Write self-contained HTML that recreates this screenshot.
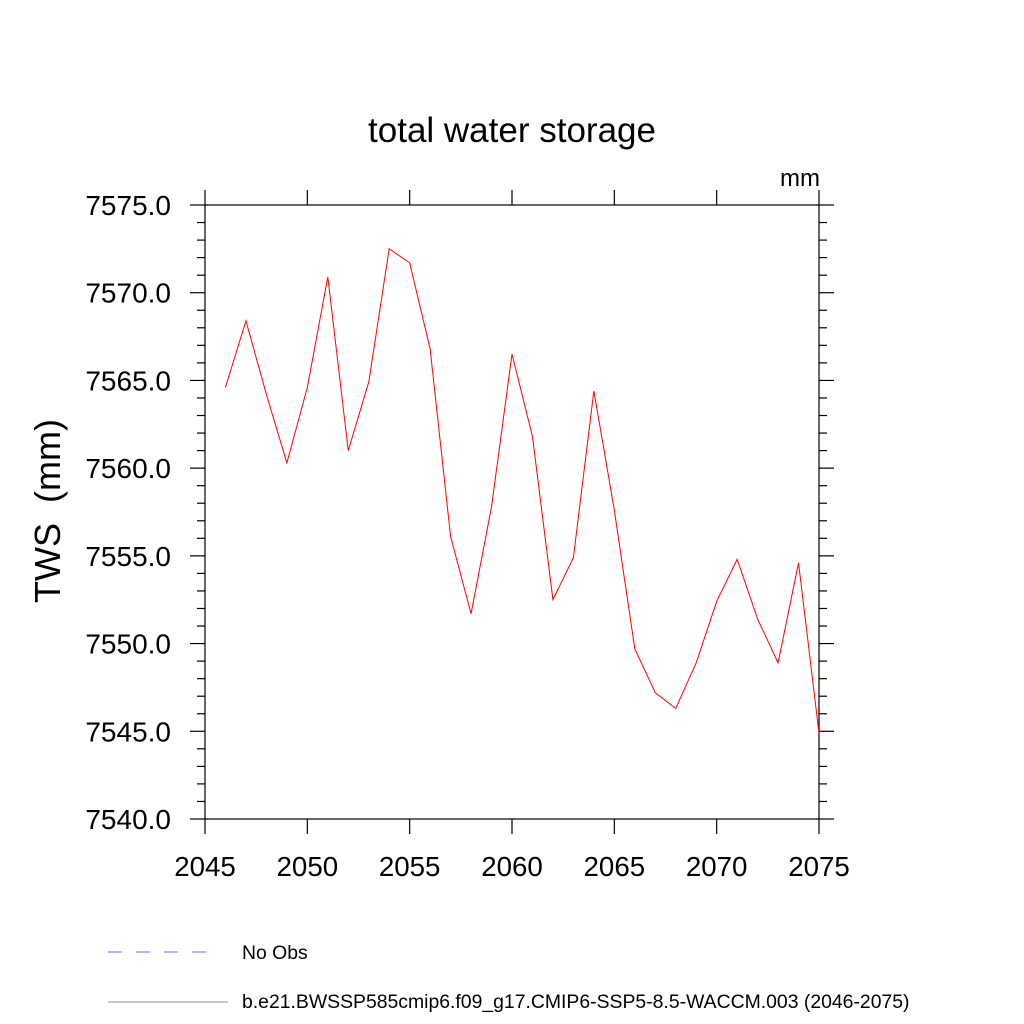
<!DOCTYPE html>
<html><head><meta charset="utf-8"><style>body{margin:0;background:#fff}svg{display:block}</style></head>
<body>
<svg id="chart" width="1024" height="1024" xmlns="http://www.w3.org/2000/svg" font-family="Liberation Sans, sans-serif">
<rect width="1024" height="1024" fill="#fff"/>
<text x="512" y="142" font-size="35" text-anchor="middle">total water storage</text>
<text x="820" y="186" font-size="24" text-anchor="end">mm</text>
<text transform="translate(60,511) rotate(-90)" font-size="36" text-anchor="middle">TWS&#160; (mm)</text>
<g id="ticks"></g>
<rect x="205" y="205" width="614" height="614" fill="none" stroke="#000" stroke-width="1.2"/>
<polyline id="series" fill="none" stroke="#f00" stroke-width="1"/>
<g>
<line x1="108" y1="952" x2="215" y2="952" stroke="#66f" stroke-width="1" stroke-dasharray="14,14"/>
<text x="242" y="959" font-size="19.4">No Obs</text>
<line x1="108" y1="1002" x2="228" y2="1002" stroke="#888" stroke-width="1"/>
<text x="242" y="1008" font-size="19.4">b.e21.BWSSP585cmip6.f09_g17.CMIP6-SSP5-8.5-WACCM.003 (2046-2075)</text>
</g>
</svg>
<script>
const years=[2046,2047,2048,2049,2050,2051,2052,2053,2054,2055,2056,2057,2058,2059,2060,2061,2062,2063,2064,2065,2066,2067,2068,2069,2070,2071,2072,2073,2074,2075];
const tws=[7564.6,7568.4,7564.2,7560.3,7564.6,7570.9,7561.0,7564.9,7572.5,7571.7,7566.8,7556.1,7551.7,7557.8,7566.5,7561.8,7552.5,7554.9,7564.4,7557.6,7549.7,7547.2,7546.3,7548.9,7552.4,7554.8,7551.4,7548.9,7554.6,7544.9];
const xTicks=[2045,2050,2055,2060,2065,2070,2075];
const yTicks=[7540,7545,7550,7555,7560,7565,7570,7575];
const X0=205,X1=819,Y0=819,Y1=205;
const xs=v=>X0+(v-2045)/30*(X1-X0);
const ys=v=>Y0-(v-7540)/35*(Y0-Y1);
const NS='http://www.w3.org/2000/svg';
const g=document.getElementById('ticks');
function ln(x1,y1,x2,y2,name){const l=document.createElementNS(NS,'line');l.setAttribute('x1',x1);l.setAttribute('y1',y1);l.setAttribute('x2',x2);l.setAttribute('y2',y2);l.setAttribute('stroke','#000');l.setAttribute('stroke-width','1.2');


g.appendChild(l);}
function tx(x,y,s,anchor,size,name){const t=document.createElementNS(NS,'text');t.setAttribute('x',x);t.setAttribute('y',y);t.setAttribute('font-size',size);t.setAttribute('text-anchor',anchor);t.textContent=s;


g.appendChild(t);}
xTicks.forEach(v=>{const x=xs(v);ln(x,Y0,x,Y0+15,'x-tick');ln(x,Y1,x,Y1-15,'x-tick-top');tx(x,Y0+57,String(v),'middle','27.7','x-tick-label');});
for(let v=7540;v<=7575;v++){const y=ys(v);const major=v%5===0;const L=major?15:8;ln(X0,y,X0-L,y,'y-tick');ln(X1,y,X1+L,y,'y-tick-right');}
yTicks.forEach(v=>{tx(X0-34,ys(v)+10,v.toFixed(1),'end','28','y-tick-label');});
document.getElementById('series').setAttribute('points',years.map((y,i)=>xs(y)+','+ys(tws[i])).join(' '));
</script>
</body></html>
